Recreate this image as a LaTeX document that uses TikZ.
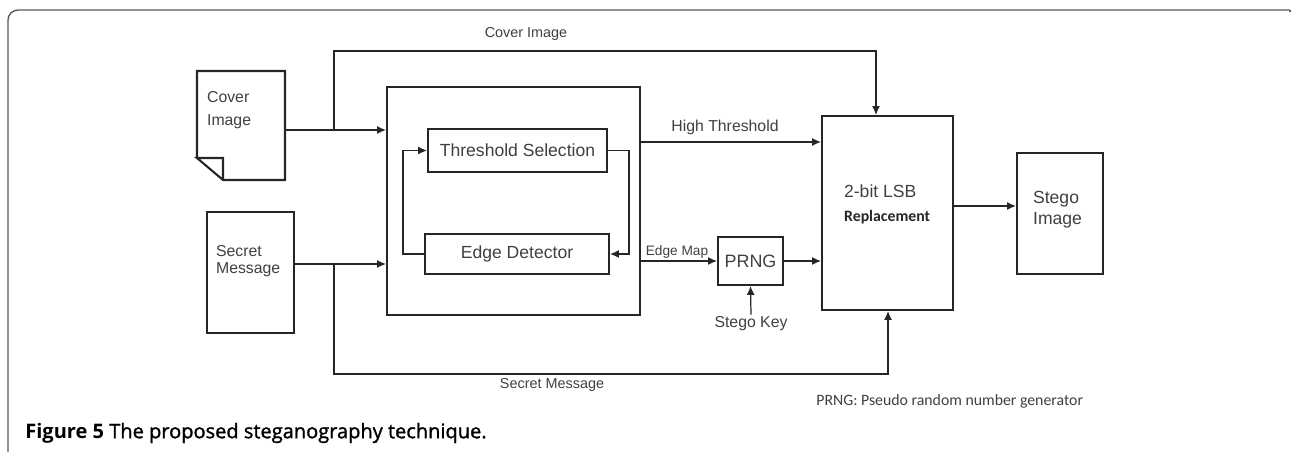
\documentclass[tikz,border=0pt]{standalone}
\usepackage{fontspec}
\setmainfont{Liberation Sans}
\newfontfamily\capfont{Open Sans}
\newfontfamily\capsemi{Open Sans}[FakeBold=1.4]
\newfontfamily\notefont{Carlito}
\usepackage{xcolor}
\usepackage{tikz}
\usetikzlibrary{arrows.meta, positioning, calc}

\definecolor{ink}{HTML}{262626}
\definecolor{txt}{HTML}{404040}

\begin{document}
\begin{tikzpicture}[x=0.02cm,y=-0.02cm,
    blk/.style={draw=ink,line width=1.2pt,inner sep=0pt},
    arr/.style={draw=ink,line width=0.7pt,-{Latex[length=5pt,width=4.5pt]}},
    lbl/.style={text=txt,inner sep=1pt}]
    \useasboundingbox (0,0) rectangle (1291,452);

    % Frame
    \draw[gray!70!black,line width=0.8pt,rounded corners=0.2cm] (8,452) -- (8,10) -- (1290,10);
    \draw[gray!70!black,line width=0.8pt] (1290,10) -- (1290,12);

    % Inputs
    \node[minimum width=1.76cm,minimum height=2.18cm,inner sep=0pt] (coverdoc) at (241,125.5) {};
    \draw[ink,line width=1.2pt,line join=miter] (197,158) -- (197,71) -- (285,71) -- (285,180) -- (223,180) -- (197,158) -- (223,158) -- (223,180);
    \node[lbl,anchor=west,align=left,font=\fontsize{9}{13}\selectfont] (covertxt) at (205,110) {Cover\\Image};

    \node[blk,minimum width=1.74cm,minimum height=2.42cm] (secretdoc) at (250.5,272.5) {};
    \node[lbl,anchor=west,align=left,font=\fontsize{9}{10}\selectfont] (secrettxt) at (214,261) {Secret\\Message};

    % Edge detection block
    \node[blk,minimum width=5.06cm,minimum height=4.56cm] (proc) at (513.5,201) {};
    \node[blk,lbl,draw=ink,line width=1.2pt,minimum width=3.58cm,minimum height=0.86cm,font=\fontsize{10}{12}\selectfont] (thresh) at (517.5,150.5) {Threshold Selection};
    \node[blk,lbl,draw=ink,line width=1.2pt,minimum width=3.68cm,minimum height=0.8cm,font=\fontsize{10}{12}\selectfont] (edge) at (517,254) {Edge Detector};

    \draw[arr] (edge.west) -- ++(-21,0) |- (thresh.west);
    \draw[arr] (thresh.east) -- ++(21,0) |- (edge.east);

    % Embedding
    \node[blk,lbl,draw=ink,line width=1.2pt,minimum width=1.3cm,minimum height=0.96cm,font=\fontsize{10.2}{12}\selectfont] (prng) at (750.5,261) {PRNG};
    \node[lbl,font=\fontsize{9}{11}\selectfont] (key) at (751,324) {Stego Key};
    \node[blk,minimum width=2.62cm,minimum height=3.88cm] (lsb) at (887.5,213) {};
    \node[lbl,anchor=west,font=\fontsize{10}{12}\selectfont] (lsbtxt) at (842,191) {2-bit LSB};
    \node[anchor=west,text=ink,inner sep=1pt,font=\notefont\bfseries\fontsize{9}{11}\selectfont] (lsbsub) at (842,217) {Replacement};

    \node[blk,minimum width=1.72cm,minimum height=2.42cm] (stego) at (1060,213.5) {};
    \node[lbl,anchor=west,align=left,font=\fontsize{10}{12}\selectfont] (stegotxt) at (1031,210) {Stego\\Image};

    % Connectors
    \coordinate (cj) at (334,130);
    \coordinate (sj) at (334,264);
    \coordinate (ctop) at (876,51);
    \coordinate (sbot) at (888,374);

    \draw[arr] (coverdoc.east |- cj) -- (proc.west |- cj);
    \draw[arr] (secretdoc.east |- sj) -- (proc.west |- sj);
    \draw[arr] (cj) |- (ctop) -- (ctop |- lsb.north);
    \draw[arr] (sj) |- (sbot) -- (sbot |- lsb.south);
    \node[lbl,font=\fontsize{8.2}{10}\selectfont] (toplbl) at (526,34) {Cover Image};
    \node[lbl,font=\fontsize{8.2}{10}\selectfont] (botlbl) at (552,385) {Secret Message};

    \draw[arr] (proc.east |- 0,142) -- (lsb.west |- 0,142);
    \node[lbl,font=\fontsize{9}{11}\selectfont] (hthlbl) at (725,127) {High Threshold};
    \draw[arr] (proc.east |- prng) -- (prng.west);
    \node[lbl,font=\fontsize{7.8}{10}\selectfont] (emlbl) at (677,252) {Edge Map};
    \draw[arr] (prng.east) -- (lsb.west |- prng.east);
    \draw[arr] (key.north) -- (prng.south);
    \draw[arr] (lsb.east |- 0,206) -- (stego.west |- 0,206);

    % Notes
    \node[anchor=west,text=txt,inner sep=0pt,font=\notefont\fontsize{9}{11}\selectfont] (note) at (816,401) {PRNG: Pseudo random number generator};
    \node[anchor=west,inner sep=0pt,font=\capsemi\fontsize{11.4}{14}\selectfont] (caption) at (25,433) {{\capfont\bfseries Figure 5} The proposed steganography technique.};
  \end{tikzpicture}
\end{document}
